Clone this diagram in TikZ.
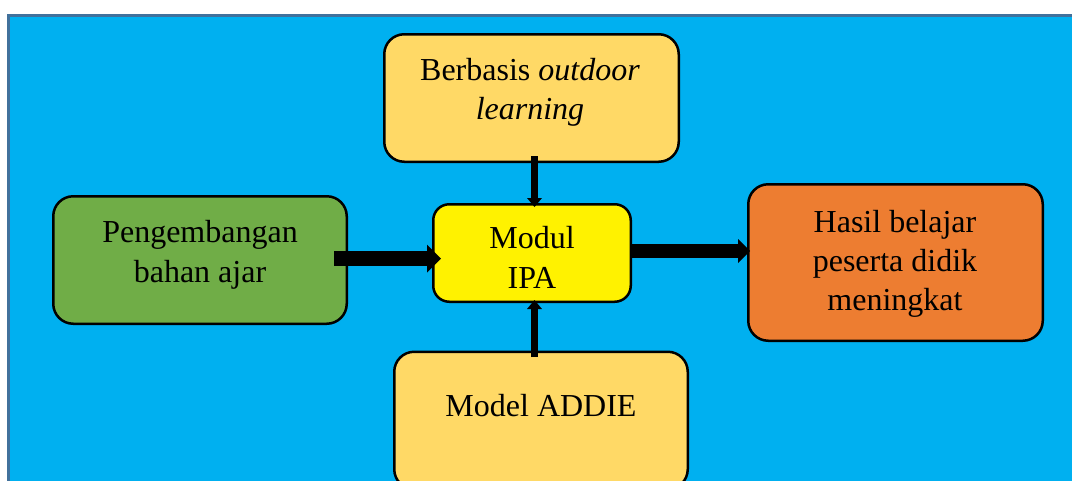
\documentclass[tikz,border=0pt]{standalone}
\usepackage{fontspec}
\setmainfont{Liberation Serif}
\usetikzlibrary{arrows.meta}
\definecolor{bgblue}{HTML}{00B0F0}
\definecolor{bgline}{HTML}{41719C}
\definecolor{gold}{HTML}{FFD966}
\definecolor{leaf}{HTML}{70AD47}
\definecolor{orng}{HTML}{ED7D31}
\begin{document}
\begin{tikzpicture}[x=1pt,y=-1pt,
  box/.style={draw=black, line width=2.5pt, rounded corners=20pt, inner sep=0pt, rectangle},
  txt/.style={font=\fontsize{32}{39}\selectfont, anchor=base, inner sep=0pt},
  bigarrow/.style={line cap=butt}]
\useasboundingbox (0,0) rectangle (1072,480);
\clip (0,0) rectangle (1072,480);
\draw[fill=bgblue, draw=bgline, line width=3pt] (8.5,15.5) rectangle (1100,510);
% boxes
\node[box, fill=gold, minimum width=294.5pt, minimum height=127.5pt] (top) at (531.5,98) {};
\node[box, fill=leaf, minimum width=293.5pt, minimum height=127.5pt] (left) at (200,260) {};
\node[box, fill=yellow, rounded corners=16pt, minimum width=197.5pt, minimum height=97.5pt] (modul) at (532,253) {};
\node[box, fill=orng, minimum width=294.5pt, minimum height=156.5pt] (right) at (895.5,262.5) {};
\node[box, fill=gold, minimum width=293.5pt, minimum height=137.5pt] (bottom) at (541,420.5) {};
% texts
\node[txt] (t1a) at (530,80) {Berbasis \textit{outdoor}};
\node[txt] (t1b) at (530,119) {\textit{learning}};
\node[txt] (t2a) at (200,242) {Pengembangan};
\node[txt] (t2b) at (200,282) {bahan ajar};
\node[txt] (t3a) at (532,248) {Modul};
\node[txt] (t3b) at (532,288) {IPA};
\node[txt] (t4a) at (895,232) {Hasil belajar};
\node[txt] (t4b) at (895,271) {peserta didik};
\node[txt] (t4c) at (895,310) {meningkat};
\node[txt] (t5) at (541,416) {Model ADDIE};
% arrow ends
\coordinate (a1s) at (334,258.5);
\coordinate (a1e) at (441,258.5);
\coordinate (a2s) at (631,251);
\coordinate (a2e) at (750,251);
\coordinate (a3s) at (534.5,156);
\coordinate (a3e) at (534.5,207);
\coordinate (a4s) at (534.5,357);
\coordinate (a4e) at (534.5,300);
\draw[bigarrow, line width=15pt, -{Triangle[length=14pt,width=28pt,line width=0pt]}] (a1s) -- (a1e);
\draw[bigarrow, line width=14pt, -{Triangle[length=12pt,width=24pt,line width=0pt]}] (a2s) -- (a2e);
\draw[bigarrow, line width=7pt, -{Triangle[length=9pt,width=15pt,line width=0pt]}] (a3s) -- (a3e);
\draw[bigarrow, line width=7pt, -{Triangle[length=9pt,width=15pt,line width=0pt]}] (a4s) -- (a4e);
\end{tikzpicture}
\end{document}
